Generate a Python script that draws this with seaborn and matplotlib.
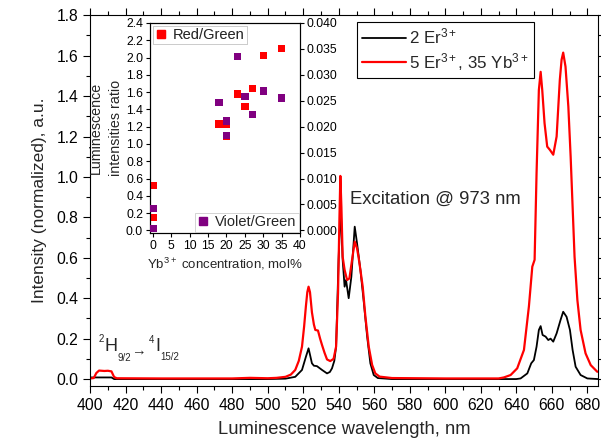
import matplotlib
matplotlib.use("Agg")
import matplotlib.pyplot as plt
import seaborn as sns
import pandas as pd
from matplotlib.ticker import MultipleLocator
from matplotlib.lines import Line2D

# ---------------- data ----------------
wl_er2 = [400, 412, 413.5, 420, 500, 510, 515.5, 519.3, 521.5, 523.0, 524.9, 526, 527.7,
          530.6, 533.4, 535, 536.2, 537.5, 538.5, 539.9, 541.1, 542.2, 543.3, 544.1, 545.6,
          547.1, 549, 550.3, 552.2, 554, 556, 557.8, 559.7, 562, 570, 640, 642.4, 646.2,
          648.4, 649.9, 651.4, 652.7, 653.7, 654.8, 656.5, 658, 659.3, 660.8, 662.7, 664.9,
          666.4, 668.3, 670.2, 671.7, 673.4, 676.2, 680, 686]
int_er2 = [0.008, 0.008, 0.0, 0.0, 0.0, 0.002, 0.011, 0.045, 0.11, 0.152, 0.078, 0.066, 0.064,
           0.045, 0.028, 0.035, 0.053, 0.09, 0.16, 0.59, 0.853, 0.59, 0.457, 0.49, 0.40,
           0.506, 0.754, 0.672, 0.54, 0.39, 0.21, 0.078, 0.02, 0.005, 0.0, 0.0, 0.003, 0.028,
           0.078, 0.094, 0.16, 0.243, 0.262, 0.218, 0.21, 0.193, 0.2, 0.185, 0.226, 0.292,
           0.333, 0.308, 0.243, 0.144, 0.061, 0.02, 0.003, 0.0]

wl_er5yb35 = [400, 402, 403.5, 405, 408, 410, 412, 413.5, 415, 440, 480, 490, 495, 500, 505,
              510, 513, 515.5, 517.5, 519.3, 520.5, 521.5, 522.3, 523.0, 523.8, 524.9, 526,
              526.8, 528.3, 529.5, 530.6, 532, 533.4, 535.2, 537.1, 538.5, 539.6, 540.4, 540.9,
              541.5, 542.2, 543.3, 544.7, 546, 547.5, 549, 550.3, 551.2, 552.2, 553.5, 555,
              556.9, 558.8, 560.6, 563, 570, 600, 630, 633, 636.8, 640.5, 644.3, 647.1, 649,
              650.3, 651.4, 652.7, 653.7, 654.6, 655.9, 657.4, 658.9, 660.8, 662.7, 664.5,
              665.5, 666.4, 667.7, 669.3, 670.6, 671.7, 672.8, 674.4, 676.2, 679, 681.9, 685.6]
int_er5yb35 = [0.003, 0.005, 0.03, 0.042, 0.040, 0.041, 0.038, 0.01, 0.004, 0.003, 0.003, 0.006,
               0.005, 0.004, 0.006, 0.011, 0.022, 0.045, 0.09, 0.16, 0.26, 0.36, 0.43, 0.457,
               0.43, 0.33, 0.27, 0.243, 0.24, 0.2, 0.168, 0.13, 0.097, 0.089, 0.10, 0.16, 0.425,
               0.8, 1.005, 0.85, 0.605, 0.54, 0.49, 0.498, 0.59, 0.68, 0.647, 0.6, 0.54, 0.457,
               0.31, 0.16, 0.07, 0.028, 0.012, 0.005, 0.003, 0.003, 0.008, 0.02, 0.053, 0.144,
               0.36, 0.556, 0.59, 1.018, 1.43, 1.52, 1.43, 1.266, 1.15, 1.134, 1.11, 1.2, 1.48,
               1.58, 1.615, 1.546, 1.348, 1.10, 0.853, 0.605, 0.39, 0.243, 0.127, 0.069, 0.036]

yb_rg = [0, 0, 18, 20, 20, 23, 25, 27, 30, 35]
ratio_rg = [0.52, 0.15, 1.23, 1.23, 1.09, 1.58, 1.43, 1.645, 2.02, 2.105]
yb_vg = [0, 0, 18, 20, 20, 23, 25, 27, 30, 35]
ratio_vg = [0.0042, 0.0003, 0.0247, 0.0211, 0.0183, 0.0335, 0.0258, 0.0223, 0.0269, 0.0255]

label_er2 = r"2 Er$^{3+}$"
label_er5 = r"5 Er$^{3+}$, 35 Yb$^{3+}$"

# ---------------- style ----------------
sns.set_style("ticks")
plt.rcParams['font.family'] = ['Liberation Sans', 'DejaVu Sans']
plt.rcParams['mathtext.fontset'] = 'custom'
plt.rcParams['mathtext.rm'] = 'Liberation Sans'
plt.rcParams['mathtext.it'] = 'Liberation Sans:italic'
plt.rcParams['mathtext.bf'] = 'Liberation Sans:bold'
plt.rcParams['axes.edgecolor'] = 'black'
plt.rcParams['xtick.color'] = 'black'
plt.rcParams['ytick.color'] = 'black'

W, H = 601, 448
fig = plt.figure(figsize=(W / 100, H / 100), dpi=100)
ax = fig.add_axes([0.150, 0.139, 0.845, 0.827])

df1 = pd.DataFrame({"wl": wl_er2, "I": int_er2})
df2 = pd.DataFrame({"wl": wl_er5yb35, "I": int_er5yb35})
sns.lineplot(data=df1, x="wl", y="I", ax=ax, color="black", lw=1.3, estimator=None, sort=False)
sns.lineplot(data=df2, x="wl", y="I", ax=ax, color="#ff0000", lw=1.6, estimator=None, sort=False)

ax.set_xlim(400, 686)
ax.set_ylim(-0.033, 1.8)
ax.xaxis.set_major_locator(MultipleLocator(20))
ax.xaxis.set_minor_locator(MultipleLocator(10))
ax.yaxis.set_major_locator(MultipleLocator(0.2))
ax.yaxis.set_minor_locator(MultipleLocator(0.1))
ax.yaxis.set_major_formatter(matplotlib.ticker.FormatStrFormatter('%.1f'))
ax.tick_params(which='both', direction='out', top=True, right=True, labelsize=11.3, width=0.8)
ax.tick_params(which='major', length=5)
ax.tick_params(which='minor', length=3)
for s in ax.spines.values():
    s.set_linewidth(0.8)
ax.set_xlabel("Luminescence wavelength, nm", fontsize=13.2, labelpad=6)
ax.set_ylabel("Intensity (normalized), a.u.", fontsize=12.5, labelpad=7)

handles = [Line2D([], [], color='black', lw=1.3), Line2D([], [], color='#ff0000', lw=1.6)]
leg = ax.legend(handles, [label_er2, label_er5], loc='upper left',
                bbox_to_anchor=(0.525, 0.982), borderaxespad=0, fontsize=12.2,
                handlelength=2.6, handletextpad=0.2, frameon=True, fancybox=False,
                borderpad=0.3, labelspacing=0.25)
leg.get_frame().set_edgecolor('black')
leg.get_frame().set_linewidth(0.8)
leg.get_frame().set_alpha(1)

ax.text(546.5, 0.89, "Excitation @ 973 nm", fontsize=13.3, ha='left', va='center')

# transition label 2H9/2 -> 4I15/2 (pieces placed in figure pixels)
def ftxt(x, y, s, size):
    fig.text(x / W, 1 - y / H, s, fontsize=size, ha='left', va='center')

ftxt(98.5, 339, "2", 7)
ftxt(104.5, 346, "H", 13)
ftxt(118.0, 358, "9/2", 7)
ftxt(131.5, 351, "\u2192", 10.5)
ftxt(149.0, 340, "4", 7)
ftxt(155.0, 346, "I", 13)
ftxt(160.0, 357, "15/2", 7)

# ---------------- inset ----------------
axi = fig.add_axes([0.2496, 0.48, 0.2496, 0.4687])
axi.set_facecolor('white')
dfr = pd.DataFrame({"yb": yb_rg, "r": ratio_rg})
dfv = pd.DataFrame({"yb": yb_vg, "r": ratio_vg})
sns.scatterplot(data=dfr, x="yb", y="r", ax=axi, marker='s', s=28, color='#ff0000',
                edgecolor='none', legend=False, zorder=3)
axi.set_xlim(-0.8, 40)
axi.set_ylim(-0.03, 2.4)
axi.xaxis.set_major_locator(MultipleLocator(5))
axi.yaxis.set_major_locator(MultipleLocator(0.2))
axi.yaxis.set_major_formatter(matplotlib.ticker.FormatStrFormatter('%.1f'))
axi.tick_params(direction='out', labelsize=8.8, length=3, width=0.8, pad=2)
axi.set_xlabel(r"Yb$^{3+}$ concentration, mol%", fontsize=9.5, labelpad=3)
axi.set_ylabel("Luminescence\nintensities ratio", fontsize=10.3, labelpad=2, linespacing=1.55)

axt = axi.twinx()
sns.scatterplot(data=dfv, x="yb", y="r", ax=axt, marker='s', s=28, color='#800080',
                edgecolor='none', legend=False, zorder=3)
axt.set_ylim(-0.0005, 0.040)
axt.yaxis.set_major_locator(MultipleLocator(0.005))
axt.yaxis.set_major_formatter(matplotlib.ticker.FormatStrFormatter('%.3f'))
axt.tick_params(direction='out', labelsize=8.8, length=3, width=0.8, pad=2)
axt.set_ylabel("")
for a in (axi, axt):
    for s in a.spines.values():
        s.set_linewidth(0.8)
        s.set_color('black')

h_r = [Line2D([], [], marker='s', color='#ff0000', ls='none', markersize=5.5)]
h_v = [Line2D([], [], marker='s', color='#800080', ls='none', markersize=5.5)]
lg1 = axi.legend(h_r, ["Red/Green"], loc='upper left', fontsize=10.5, frameon=True,
                 fancybox=False, borderaxespad=0.2, handlelength=0.8, handletextpad=0.4,
                 borderpad=0.15)
lg1.get_frame().set_edgecolor('#c0c0c0')
lg1.get_frame().set_linewidth(0.6)
axi.add_artist(lg1)
lg2 = axt.legend(h_v, ["Violet/Green"], loc='lower right', fontsize=10.5, frameon=True,
                 fancybox=False, borderaxespad=0.1, handlelength=0.8, handletextpad=0.4,
                 borderpad=0.15)
lg2.get_frame().set_edgecolor('#c0c0c0')
lg2.get_frame().set_linewidth(0.6)

fig.savefig("out.png", dpi=100)
